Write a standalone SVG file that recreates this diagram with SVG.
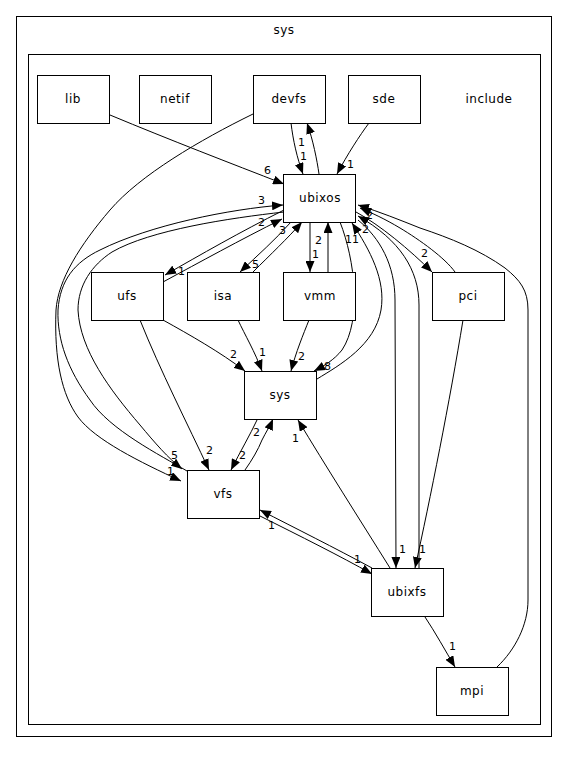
<svg xmlns="http://www.w3.org/2000/svg" width="568" height="763" viewBox="0 0 568 763">
<defs>
<marker id="ah" markerUnits="userSpaceOnUse" markerWidth="12" markerHeight="9" refX="11" refY="4.5" orient="auto">
<path d="M0,0 L11,4.5 L0,9 z" fill="#000"/>
</marker>
<style>
.cl{fill:none;stroke:#000;stroke-width:1}
.nd rect{fill:#fff;stroke:#000;stroke-width:1}
.nd text,.ct{font-family:"DejaVu Sans",sans-serif;font-size:12px;letter-spacing:0.5px;text-anchor:middle;fill:#000}
.e path{fill:none;stroke:#000;stroke-width:1;marker-end:url(#ah)}
.e text{font-family:"DejaVu Sans",sans-serif;font-size:11px;fill:#000}
</style>
</defs>
<rect width="568" height="763" fill="#fff"/>
<g id="cluster_sys">
<rect class="cl" x="16.5" y="16.5" width="535" height="720"/>
<text class="ct" x="284" y="34">sys</text>
</g>
<g id="cluster_include">
<rect class="cl" x="28.5" y="54.5" width="512" height="670"/>
<text class="ct" x="489" y="103">include</text>
</g>
<g id="edges" class="e">
<path d="M110,115 C 170,140 230,163 284,184"/><text x="264" y="174">6</text>
<path d="M291,123 C 293,140 297,158 303,174"/><text x="300" y="160">1</text>
<path d="M319,174 C 317,160 313,140 307,123"/><text x="298" y="146">1</text>
<path d="M369,123 C 360,135 347,155 337,174"/><text x="347" y="168">1</text>
<path d="M284,210 C 240,232 200,255 165,275"/><text x="178" y="275">1</text>
<path d="M163,282 C 200,262 240,240 282,219"/><text x="258" y="226">2</text>
<path d="M291,222 C 275,240 258,255 240,272"/><text x="252" y="268">5</text>
<path d="M253,272 C 270,255 288,238 302,222"/><text x="279" y="234">3</text>
<path d="M310,222 L310,272"/><text x="312" y="258">1</text>
<path d="M328,272 L328,222"/><text x="315" y="244">2</text>
<path d="M340,222 C 355,260 362,320 342,350 C 334,360 324,366 314,371"/><text x="324" y="370">8</text>
<path d="M317,379 C 340,365 375,345 381,310 C 386,280 370,250 352,223"/><text x="345" y="243">11</text>
<path d="M356,212 C 380,225 410,250 432,272"/><text x="421" y="257">2</text>
<path d="M455,272 C 445,258 420,240 400,228 C 385,219 372,213 360,208"/><text x="366" y="219">2</text>
<path d="M497,667 C 515,650 528,625 528,600 L528,310 C 528,290 520,280 505,268 C 480,250 450,238 420,228 C 400,220 380,212 358,205"/>
<path d="M358,220 C 380,238 395,265 395,300 L396,568"/><text x="399" y="553">1</text>
<path d="M419,568 L419,305 C 419,270 400,240 358,216"/><text x="362" y="233">2</text>
<path d="M463,320 C 450,400 430,500 415,568"/><text x="419" y="553">1</text>
<path d="M390,568 C 360,520 325,465 298,420"/><text x="292" y="442">1</text>
<path d="M245,470 C 252,460 258,450 262,440 C 266,432 270,426 273,419"/><text x="253" y="436">2</text>
<path d="M257,420 C 250,435 240,452 231,470"/><text x="239" y="459">2</text>
<path d="M140,320 C 160,370 188,425 209,470"/><text x="206" y="454">2</text>
<path d="M163,320 C 190,335 220,352 245,371"/><text x="230" y="358">2</text>
<path d="M238,320 C 245,335 255,352 262,371"/><text x="259" y="356">1</text>
<path d="M309,320 C 303,335 296,352 291,371"/><text x="298" y="360">2</text>
<path d="M260,516 C 300,536 340,556 372,574"/><text x="354" y="563">1</text>
<path d="M372,568 C 335,548 295,528 260,510"/><text x="268" y="529">1</text>
<path d="M425,617 C 435,632 445,650 455,667"/><text x="449" y="650">1</text>
<path d="M253,114 C 200,140 140,175 110,210 C 80,245 58,280 56,310 C 54,360 62,395 78,417 C 95,440 140,462 181,481"/><text x="167" y="475">1</text>
<path d="M187,471 C 160,455 110,430 90,400 C 68,370 57,340 58,310 C 60,280 75,262 100,250 C 150,225 230,209 283,205"/><text x="258" y="204">3</text>
<path d="M284,212 C 230,218 150,230 112,252 C 92,265 78,285 78,310 C 80,350 110,390 140,425 C 155,443 168,458 182,469"/><text x="171" y="459">5</text>
</g>
<g id="lib" class="nd"><rect x="37.5" y="75.5" width="72" height="48"/><text x="73" y="103">lib</text></g>
<g id="netif" class="nd"><rect x="139.5" y="75.5" width="72" height="48"/><text x="175" y="103">netif</text></g>
<g id="devfs" class="nd"><rect x="253.5" y="75.5" width="72" height="48"/><text x="289" y="103">devfs</text></g>
<g id="sde" class="nd"><rect x="348.5" y="75.5" width="72" height="48"/><text x="384" y="103">sde</text></g>
<g id="ubixos" class="nd"><rect x="283.5" y="174.5" width="72" height="48"/><text x="320" y="202">ubixos</text></g>
<g id="ufs" class="nd"><rect x="91.5" y="272.5" width="72" height="48"/><text x="127" y="300">ufs</text></g>
<g id="isa" class="nd"><rect x="187.5" y="272.5" width="72" height="48"/><text x="223" y="300">isa</text></g>
<g id="vmm" class="nd"><rect x="283.5" y="272.5" width="72" height="48"/><text x="320" y="300">vmm</text></g>
<g id="pci" class="nd"><rect x="432.5" y="272.5" width="72" height="48"/><text x="468" y="300">pci</text></g>
<g id="sys" class="nd"><rect x="244.5" y="371.5" width="72" height="48"/><text x="280" y="399">sys</text></g>
<g id="vfs" class="nd"><rect x="187.5" y="470.5" width="72" height="48"/><text x="223" y="498">vfs</text></g>
<g id="ubixfs" class="nd"><rect x="371.5" y="568.5" width="72" height="48"/><text x="407" y="596">ubixfs</text></g>
<g id="mpi" class="nd"><rect x="436.5" y="667.5" width="72" height="48"/><text x="472" y="695">mpi</text></g>
</svg>
